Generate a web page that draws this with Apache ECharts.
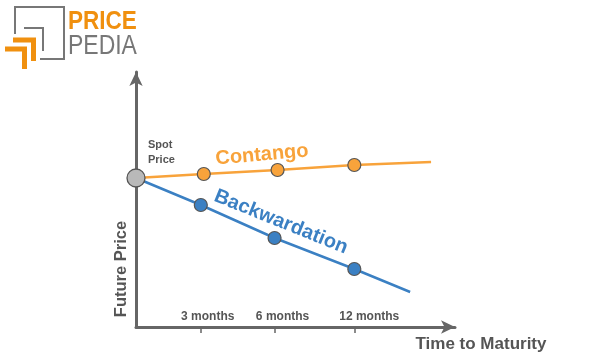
<!DOCTYPE html>
<html><head><meta charset="utf-8">
<script src="https://cdn.jsdelivr.net/npm/echarts@6/dist/echarts.min.js"></script>
<style>html,body{margin:0;padding:0;background:#fff}#c{width:589px;height:355px}</style>
</head><body><div id="c"></div>
<script>
// schematic units (x: maturity position, y: price level)
const spot = [0, 14.9];
const contangoX = [0, 6.8, 14.2, 21.9, 29.6];
const contangoY = [14.9, 15.3, 15.7, 16.2, 16.5];
const backX = [0, 6.5, 13.9, 21.9, 27.5];
const backY = [14.9, 12.2, 8.9, 5.8, 3.5];
const tickValues = [6.5, 13.9, 21.9];
const labelValues = [7.2, 14.7, 23.4];
const tickLabels = ['3 months', '6 months', '12 months'];

const FONT = 'Liberation Sans, Arial, sans-serif';
const ORANGE = '#f8a33b';
const BLUE = '#3b80c3';
const GREY = '#666666';

function pts(xs, ys) {
  return xs.map((x, i) => ({
    value: [x, ys[i]],
    symbolSize: (i === 0 || i === xs.length - 1) ? 0 : 13
  }));
}

const chart = echarts.init(document.getElementById('c'));
chart.setOption({
  animation: false,
  grid: { left: 136, top: 72, width: 319, height: 255 },
  xAxis: {
    type: 'value', min: 0, max: 32,
    splitLine: { show: false },
    axisLine: { show: true, lineStyle: { color: GREY, width: 3 }, symbol: ['none', 'arrow'], symbolSize: [10, 14] },
    axisTick: { show: true, customValues: tickValues, length: 6, lineStyle: { color: GREY, width: 1.5 } },
    axisLabel: {
      show: true, inside: true, margin: 4, customValues: labelValues,
      formatter: v => tickLabels[labelValues.indexOf(v)] || '',
      color: '#555', fontFamily: FONT, fontWeight: 'bold', fontSize: 12
    }
  },
  yAxis: {
    type: 'value', min: 0, max: 25.5,
    splitLine: { show: false },
    axisLine: { show: true, lineStyle: { color: GREY, width: 3 }, symbol: ['none', 'arrow'], symbolSize: [10, 14] },
    axisTick: { show: false },
    axisLabel: { show: false }
  },
  series: [
    {
      type: 'line', data: pts(contangoX, contangoY), symbol: 'circle',
      lineStyle: { color: ORANGE, width: 2.5 },
      itemStyle: { color: ORANGE, borderColor: '#555', borderWidth: 1.2 }, z: 3
    },
    {
      type: 'line', data: pts(backX, backY), symbol: 'circle',
      lineStyle: { color: BLUE, width: 2.5 },
      itemStyle: { color: BLUE, borderColor: '#555', borderWidth: 1.2 }, z: 3
    },
    {
      type: 'scatter', data: [spot], symbol: 'circle', symbolSize: 18,
      itemStyle: { color: '#b9b9b9', borderColor: '#555', borderWidth: 1.3, opacity: 1 }, z: 5
    }
  ],
  graphic: [
    // logo
    { type: 'polyline', shape: { points: [[15, 34], [15, 7], [64, 7], [64, 59], [40, 59]] }, style: { stroke: '#777', lineWidth: 2, fill: null } },
    { type: 'polyline', shape: { points: [[24, 28], [43, 28], [43, 51]] }, style: { stroke: '#777', lineWidth: 2, fill: null } },
    { type: 'polyline', shape: { points: [[13, 40], [33.5, 40], [33.5, 61]] }, style: { stroke: '#f0900f', lineWidth: 5, fill: null } },
    { type: 'polyline', shape: { points: [[5, 49], [24.5, 49], [24.5, 69]] }, style: { stroke: '#f0900f', lineWidth: 5, fill: null } },
    { type: 'text', x: 68, y: 10, scaleX: 0.9, style: { text: 'PRICE', font: 'bold 25px ' + FONT, fill: '#f0900f' } },
    { type: 'text', x: 68, y: 32, scaleX: 0.82, style: { text: 'PEDIA', font: '28px ' + FONT, fill: '#777' } },
    // annotations
    { type: 'text', x: 148, y: 137, style: { text: 'Spot\nPrice', font: 'bold 11px ' + FONT, fill: '#555', lineHeight: 15 } },
    { type: 'text', x: 262, y: 155, rotation: 5 * Math.PI / 180, style: { text: 'Contango', font: 'bold 20px ' + FONT, fill: ORANGE, align: 'center', verticalAlign: 'middle' } },
    { type: 'text', x: 281, y: 222, rotation: -22 * Math.PI / 180, style: { text: 'Backwardation', font: 'bold 20px ' + FONT, fill: BLUE, align: 'center', verticalAlign: 'middle' } },
    { type: 'text', x: 121, y: 269, rotation: Math.PI / 2, style: { text: 'Future Price', font: 'bold 16.5px ' + FONT, fill: '#555', align: 'center', verticalAlign: 'middle' } },
    { type: 'text', x: 481, y: 344, style: { text: 'Time to Maturity', font: 'bold 17px ' + FONT, fill: '#555', align: 'center', verticalAlign: 'middle' } }
  ]
});
</script></body></html>
